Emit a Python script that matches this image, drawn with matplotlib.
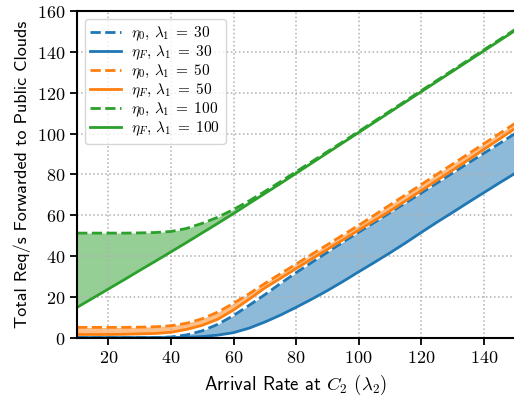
import matplotlib
matplotlib.use("Agg")
import matplotlib.pyplot as plt
from matplotlib.ticker import FuncFormatter

lam2 = [10, 15, 20, 25, 30, 35, 40, 45, 50, 55, 60, 65, 70, 75, 80, 85, 90, 95,
        100, 105, 110, 115, 120, 125, 130, 135, 140, 145, 150]

eta0_30 = [0, 0, 0, 0, 0, 0, 0.3, 1.3, 3.3, 6.5, 10.8, 15.8, 21.0, 26.5, 31.8, 36.8,
           41.8, 46.8, 51.6, 56.4, 61.2, 66.0, 70.8, 75.7, 80.6, 85.5, 90.3, 95.1, 100.0]
etaF_30 = [0, 0, 0, 0, 0, 0, 0, 0.1, 0.5, 1.2, 2.4, 4.6, 7.6, 11.0, 14.8, 18.8,
           23.0, 27.5, 32.2, 36.8, 41.5, 46.4, 51.5, 56.5, 61.3, 66.2, 71.0, 75.8, 80.5]
eta0_50 = [5.0, 5.0, 5.0, 5.0, 5.1, 5.3, 5.8, 7.0, 9.2, 12.5, 16.8, 21.5, 26.5, 31.3,
           36.0, 40.8, 45.5, 50.3, 55.0, 60.0, 65.0, 70.0, 75.0, 80.0, 85.0, 90.0,
           95.0, 100.0, 105.0]
etaF_50 = [1.5, 1.5, 1.5, 1.6, 1.8, 2.0, 2.6, 4.0, 6.0, 9.0, 13.5, 18.8, 24.3, 29.0,
           33.8, 38.5, 43.2, 47.9, 52.6, 57.3, 62.0, 67.0, 72.0, 77.0, 82.0, 87.0,
           92.2, 97.3, 102.5]
eta0_100 = [51.2, 51.2, 51.2, 51.2, 51.3, 51.5, 52.0, 53.5, 56.0, 59.0, 62.8, 67.0,
            71.6, 76.4, 81.3, 86.2, 91.1, 96.0, 101.0, 106.0, 111.0, 116.0, 121.0,
            126.0, 131.0, 136.0, 141.0, 146.0, 151.0]
etaF_100 = [14.8, 19.3, 23.8, 28.3, 32.9, 37.4, 42.0, 46.6, 51.3, 56.0, 60.8, 65.7,
            70.6, 75.5, 80.5, 85.5, 90.5, 95.5, 100.5, 105.5, 110.5, 115.5, 120.5,
            125.5, 130.5, 135.5, 140.5, 145.5, 150.5]

series = [
    ("30", eta0_30, etaF_30, "tab:blue"),
    ("50", eta0_50, etaF_50, "tab:orange"),
    ("100", eta0_100, etaF_100, "tab:green"),
]

plt.rcParams["mathtext.fontset"] = "cm"
plt.rcParams["axes.unicode_minus"] = False

fig = plt.figure(figsize=(5.14, 3.99), dpi=100)
ax = fig.add_axes([0.150, 0.154, 0.852, 0.818])

for lab, e0, eF, col in series:
    ax.plot(lam2, e0, "--", color=col, lw=2,
            label=r"$\eta_0,\,\lambda_1 \;=\; %s$" % lab)
    ax.plot(lam2, eF, "-", color=col, lw=2,
            label=r"$\eta_F,\,\lambda_1 \;=\; %s$" % lab)
    ax.fill_between(lam2, e0, eF, color=col, alpha=0.5, lw=0)

ax.set_xlim(10, 150)
ax.set_ylim(0, 160)
ax.set_xticks([20, 40, 60, 80, 100, 120, 140])
ax.set_yticks([0, 20, 40, 60, 80, 100, 120, 140, 160])
fmt = FuncFormatter(lambda v, p: r"$%d$" % v)
ax.xaxis.set_major_formatter(fmt)
ax.yaxis.set_major_formatter(fmt)
ax.tick_params(labelsize=13, width=1.3, length=5)
ax.grid(True, ls=":", color="#b0b0b0", lw=1.1)
for s in ax.spines.values():
    s.set_linewidth(1.5)

ax.set_xlabel(r"Arrival Rate at $C_2$ $(\lambda_2)$", fontsize=13.5, family="cmss10")
ax.set_ylabel("Total Req/s Forwarded to Public Clouds", fontsize=13, family="cmss10")

ax.legend(loc="upper left", fontsize=11, framealpha=0.8, labelspacing=0.05,
          borderpad=0.35, handletextpad=0.7)

fig.savefig("out.png", dpi=100)
